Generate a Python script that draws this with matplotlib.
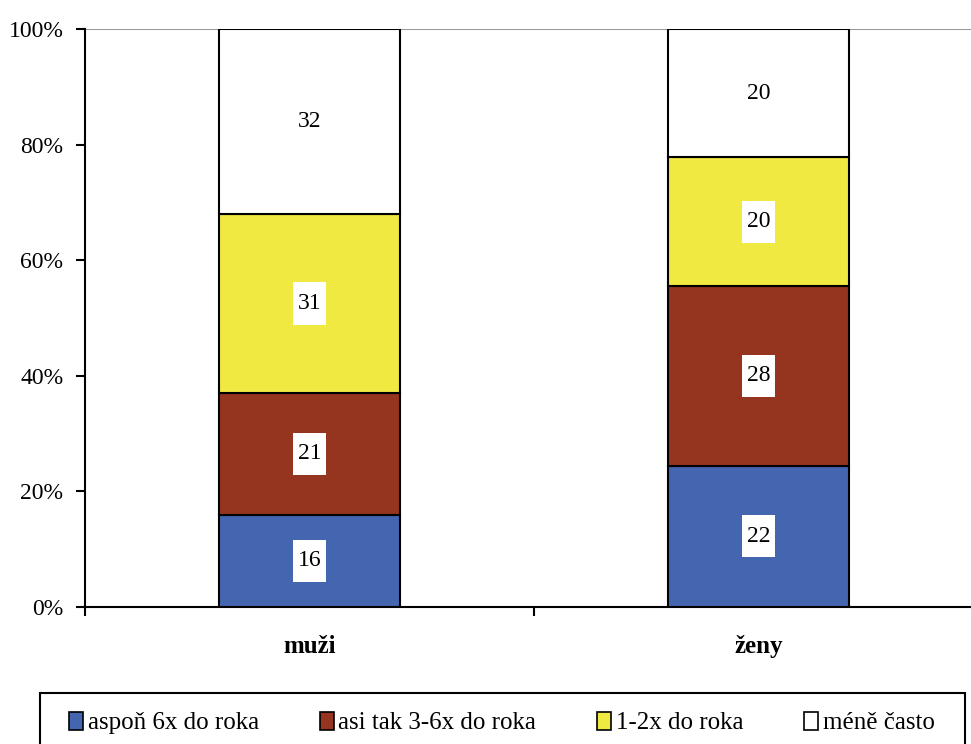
import matplotlib.pyplot as plt
from matplotlib.patches import Patch, Rectangle
from matplotlib.path import Path

plt.rcParams['font.family'] = ['Liberation Serif', 'DejaVu Serif']

groups = ['muži', 'ženy']
series = ['aspoň 6x do roka', 'asi tak 3-6x do roka', '1-2x do roka', 'méně často']
values = [
    [16, 22],
    [21, 28],
    [31, 20],
    [32, 20],
]
colors = ['#4465b0', '#95341f', '#efe941', '#ffffff']

totals = [sum(v[i] for v in values) for i in range(len(groups))]


def label_box(x0, y0, width, height, mutation_size):
    # white box, taller than wide, behind the value labels
    px = 0.2 * mutation_size
    py = 0.45 * mutation_size
    x0, y0 = x0 - px, y0 - py
    x1, y1 = x0 + width + 2 * px, y0 + height + 2 * py
    return Path([(x0, y0), (x1, y0), (x1, y1), (x0, y1), (x0, y0)], closed=True)


fig = plt.figure(figsize=(9.71, 7.44), dpi=100)
ax = fig.add_axes([85 / 971, 1 - 607 / 744, 898 / 971, 578 / 744])

x = list(range(len(groups)))
bottom = [0.0] * len(groups)
for vals, col in zip(values, colors):
    pct = [v / t * 100 for v, t in zip(vals, totals)]
    ax.bar(x, pct, width=0.404, bottom=bottom, color=col, edgecolor='black',
           linewidth=1.5, zorder=3)
    for i in x:
        ax.text(i, bottom[i] + pct[i] / 2, str(vals[i]), ha='center', va='center',
                fontsize=17, zorder=4,
                bbox=dict(boxstyle=label_box, fc='white', ec='none'))
    bottom = [b + p for b, p in zip(bottom, pct)]

ax.set_xlim(-0.5, 1.5)
ax.set_ylim(0, 100)
ax.set_yticks(range(0, 101, 20))
ax.set_yticklabels([f'{t}%' for t in range(0, 101, 20)], fontsize=17)
ax.set_xticks([-0.5, 0.5, 1.5])
ax.set_xticklabels([])
ax.set_xticks(x, minor=True)
ax.set_xticklabels(groups, minor=True, fontsize=18, fontweight='bold')
ax.tick_params(axis='x', which='minor', length=0, pad=20)
ax.tick_params(axis='x', which='major', length=6.5, width=1.5, direction='out')
ax.tick_params(axis='y', length=6.5, width=1.5, direction='out', pad=9)
ax.axhline(100, color='#999999', linewidth=1.5, zorder=1)
ax.spines['top'].set_visible(False)
ax.spines['right'].set_visible(False)
ax.spines['left'].set_linewidth(1.5)
ax.spines['bottom'].set_linewidth(1.5)

# legend frame, runs off the bottom edge like the original
fig.patches.append(Rectangle((40 / 971, -0.02), 925 / 971, 1 - 693 / 744 + 0.02,
                             transform=fig.transFigure, fill=False,
                             edgecolor='black', linewidth=1.5))
handles = [Patch(facecolor=c, edgecolor='black', linewidth=1.2) for c in colors]
fig.legend(handles, series, loc='center left', ncol=4,
           bbox_to_anchor=(69 / 971, 1 - 723 / 744, 866 / 971, 0),
           mode='expand', fontsize=18, frameon=False,
           handlelength=0.55, handleheight=0.75, handletextpad=0.2,
           borderpad=0, borderaxespad=0)

fig.savefig('out.png', dpi=100)
